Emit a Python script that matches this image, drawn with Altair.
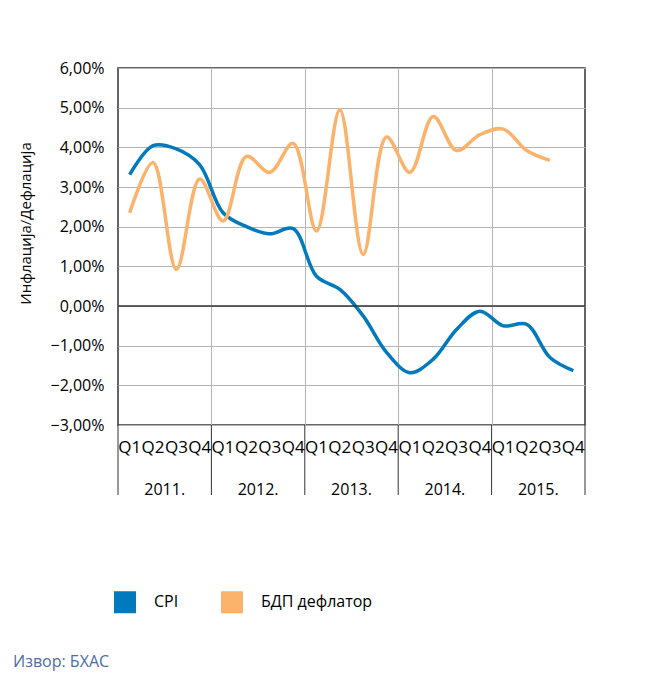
import altair as alt
import pandas as pd

quarters = ["Q1", "Q2", "Q3", "Q4"]
years = ["2011.", "2012.", "2013.", "2014.", "2015."]
cpi = [3.31, 4.04, 3.96, 3.56, 2.35, 2.00, 1.82, 1.95, 0.75, 0.42, -0.25, -1.17,
       -1.68, -1.34, -0.59, -0.13, -0.50, -0.46, -1.30, -1.63]
deflator = [2.35, 3.62, 0.92, 3.20, 2.14, 3.77, 3.37, 4.10, 1.89, 4.95, 1.30, 4.26,
            3.37, 4.78, 3.92, 4.32, 4.46, 3.92, 3.67, None]
series_names = ["CPI", "БДП дефлатор"]
series_colors = ["#0079BD", "#FBB36B"]
y_ticks = [-3, -2, -1, 0, 1, 2, 3, 4, 5, 6]
y_title = "Инфлација/Дефлација"
source_text = "Извор: БХАС"

FONT = "Open Sans"
W, H = 467, 357

rows = []
for name, vals in zip(series_names, [cpi, deflator]):
    for i, v in enumerate(vals):
        if v is not None:
            rows.append({"pos": i + 0.5, "value": v, "series": name})
df = pd.DataFrame(rows)

qdf = pd.DataFrame([{"pos": yi * 4 + qi + 0.5, "label": q}
                    for yi, _ in enumerate(years) for qi, q in enumerate(quarters)])
ydf = pd.DataFrame([{"pos": yi * 4 + 2, "label": y} for yi, y in enumerate(years)])
bdf = pd.DataFrame({"pos": [yi * 4 for yi in range(len(years) + 1)]})
zdf = pd.DataFrame({"v": [0]})
sdf = pd.DataFrame({"t": [source_text]})

xscale = alt.Scale(domain=[0, len(years) * 4], nice=False, zero=False)
yscale = alt.Scale(domain=[min(y_ticks), max(y_ticks)], nice=False)
cscale = alt.Scale(domain=series_names, range=series_colors)

xaxis = alt.Axis(values=[4, 8, 12, 16], labels=False, ticks=False, domain=False,
                 title=None, grid=True, gridColor="#B4B4B4", gridWidth=1)
yaxis = alt.Axis(values=y_ticks, labelExpr="replace(format(datum.value, '.2f'), '.', ',') + '%'",
                 labelFontSize=16, labelPadding=14, labelColor="#000", ticks=False, domain=False,
                 labelOverlap=False, labelBound=False, labelFlush=False,
                 grid=True, gridColor="#B4B4B4", gridWidth=1,
                 title=y_title, titleFontSize=15, titleFontWeight="normal", titleColor="#000",
                 titleX=-93, titleY=155, titleAngle=270, titleAlign="center",
                 titleBaseline="middle")

lines = alt.Chart(df).mark_line(strokeWidth=3.5, interpolate="catmull-rom").encode(
    x=alt.X("pos:Q", scale=xscale, axis=xaxis),
    y=alt.Y("value:Q", scale=yscale, axis=yaxis),
    color=alt.Color("series:N", scale=cscale,
                    legend=alt.Legend(orient="none", legendX=-4, legendY=523, direction="horizontal",
                                      title=None, symbolType="square", symbolSize=121,
                                      symbolStrokeWidth=11, symbolOpacity=1,
                                      labelFontSize=16, labelOffset=18, columnPadding=25,
                                      labelColor="#000")),
)

zero = alt.Chart(zdf).mark_rule(color="#333333", strokeWidth=1.5).encode(
    y=alt.Y("v:Q", scale=yscale, axis=yaxis))

seps = alt.Chart(bdf).mark_rule(color="#333333", strokeWidth=1).encode(
    x=alt.X("pos:Q", scale=xscale, axis=xaxis), y=alt.value(H), y2=alt.value(H + 70))

qlabels = alt.Chart(qdf).mark_text(fontSize=17, baseline="middle", align="center", color="#000").encode(
    x=alt.X("pos:Q", scale=xscale, axis=xaxis), y=alt.value(H + 23), text="label:N")

ylabels = alt.Chart(ydf).mark_text(fontSize=16, baseline="middle", align="center", color="#000").encode(
    x=alt.X("pos:Q", scale=xscale, axis=xaxis), y=alt.value(H + 65), text="label:N")

source = alt.Chart(sdf).mark_text(fontSize=16, baseline="alphabetic", align="left", color="#4A6DA7").encode(
    x=alt.value(-105), y=alt.value(599), text="t:N")

chart = alt.layer(lines, zero, seps, qlabels, ylabels, source).properties(
    width=W, height=H,
    autosize=alt.AutoSizeParams(type="none"),
    padding={"left": 110, "top": 60, "right": 62, "bottom": 248},
).configure(font=FONT).configure_view(stroke="#333333", strokeWidth=1.5)

chart.save("out.html", embed_options={"renderer": "svg", "actions": False})
